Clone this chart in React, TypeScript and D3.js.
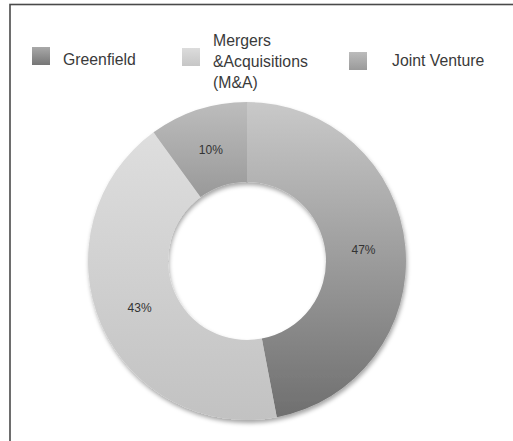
import React from "react";
import * as d3 from "d3";

const categories = ["Greenfield", "Mergers &Acquisitions (M&A)", "Joint Venture"];
const legendLines = [["Greenfield"], ["Mergers", "&Acquisitions", "(M&A)"], ["Joint Venture"]];
const values = [47, 43, 10];
const labels = ["47%", "43%", "10%"];
const gradTop = ["#c9c9c9", "#dedede", "#bdbdbd"];
const gradBottom = ["#6f6f6f", "#c2c2c2", "#999999"];
const swatchTop = ["#a9a9a9", "#dcdcdc", "#bcbcbc"];
const swatchBottom = ["#767676", "#c6c6c6", "#9a9a9a"];

export default function App() {
  const W = 513, H = 441;
  const cx = 247, cy = 261, R = 159, r = 79;
  const pie = d3.pie<number>().sort(null).value((d) => d)(values);
  const arc = d3.arc<d3.PieArcDatum<number>>().innerRadius(r).outerRadius(R);
  const labelArc = d3.arc<d3.PieArcDatum<number>>().innerRadius(117).outerRadius(117);

  const legendX = [32, 182, 349];
  const legendSwatchY = [47, 48, 52];
  const legendTextX = [63, 213, 392];
  const legendTextY = [[65], [46, 67, 88], [66]];

  return (
    <svg width={W} height={H} style={{ position: "absolute", left: 0, top: 0, background: "#fff" }}
      fontFamily="'Liberation Sans', Arial, Helvetica, sans-serif">
      <defs>
        {categories.map((c, i) => (
          <linearGradient key={"g" + i} id={"grad" + i} x1="0" y1="0" x2="0" y2="1">
            <stop offset="0" stopColor={gradTop[i]} />
            <stop offset="1" stopColor={gradBottom[i]} />
          </linearGradient>
        ))}
        {categories.map((c, i) => (
          <linearGradient key={"s" + i} id={"sw" + i} x1="0" y1="0" x2="0" y2="1">
            <stop offset="0" stopColor={swatchTop[i]} />
            <stop offset="1" stopColor={swatchBottom[i]} />
          </linearGradient>
        ))}
        <filter id="shadow" x="-20%" y="-20%" width="140%" height="140%">
          <feDropShadow dx="1" dy="3" stdDeviation="2" floodColor="#000" floodOpacity="0.35" />
        </filter>
      </defs>
      <rect x={10} y={4.5} width={W + 20} height={H + 20} fill="none" stroke="#4a4a4a" strokeWidth={1.6} />
      {categories.map((c, i) => (
        <g key={"l" + i}>
          <rect x={legendX[i]} y={legendSwatchY[i]} width={18} height={18} fill={`url(#sw${i})`} />
          <text x={legendTextX[i]} fontSize={15.8} fill="#3a3a3a">
            {legendLines[i].map((t, j) => (
              <tspan key={j} x={legendTextX[i]} y={legendTextY[i][j]}>{t}</tspan>
            ))}
          </text>
        </g>
      ))}
      <g transform={`translate(${cx},${cy})`}>
        <g filter="url(#shadow)">
          {pie.map((p, i) => (
            <path key={"p" + i} d={arc(p) || ""} fill={`url(#grad${i})`} />
          ))}
        </g>
        {pie.map((p, i) => {
          const [x, y] = labelArc.centroid(p);
          return (
            <text key={"t" + i} x={x} y={y} dy="0.35em" textAnchor="middle" fontSize={12} fill="#333">
              {labels[i]}
            </text>
          );
        })}
      </g>
    </svg>
  );
}
